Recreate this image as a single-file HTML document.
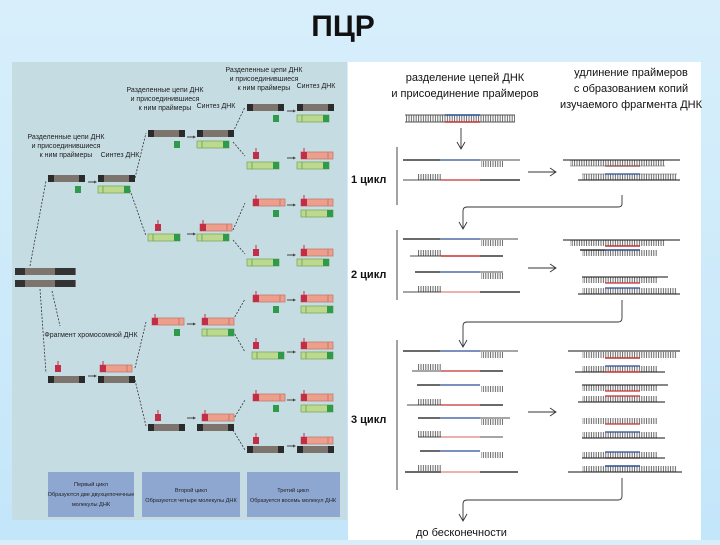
<!DOCTYPE html>
<html><head><meta charset="utf-8">
<style>
html,body{margin:0;padding:0;}
body{width:720px;height:540px;overflow:hidden;background:linear-gradient(#d8effb,#c4e6fa);font-family:"Liberation Sans",sans-serif;}
</style></head><body>
<svg width="720" height="540" viewBox="0 0 720 540" xmlns="http://www.w3.org/2000/svg" font-family="Liberation Sans, sans-serif">
<defs>
<g id="gb"><rect x="0" y="0" width="37" height="7" fill="#7d746e"/><rect x="0" y="0" width="6" height="7" fill="#2b2b2b"/><rect x="31" y="0" width="6" height="7" fill="#2b2b2b"/></g>
<g id="gn"><rect x="0" y="0" width="32" height="7" fill="#bcd98e" stroke="#7aa860" stroke-width="0.8"/><rect x="26" y="0" width="6" height="7" fill="#2f9a4a"/><line x1="5" y1="0" x2="5" y2="7" stroke="#7aa860"/></g>
<g id="rd"><rect x="0" y="0" width="32" height="7" fill="#ee9f8c" stroke="#c47a70" stroke-width="0.8"/><rect x="0" y="0" width="6" height="7" fill="#c22e48"/><line x1="27" y1="0" x2="27" y2="7" stroke="#c47a70"/><line x1="3" y1="-4" x2="3" y2="0" stroke="#c22e48"/></g>
<g id="pg"><rect x="0" y="0" width="6" height="7" fill="#2f9a4a"/></g>
<g id="pr"><rect x="0" y="0" width="6" height="7" fill="#c22e48"/><line x1="3" y1="-4" x2="3" y2="0" stroke="#c22e48"/></g>
<g id="ar"><line x1="0" y1="0" x2="6" y2="0" stroke="#444" stroke-width="1"/><path d="M6,-1.5 L9,0 L6,1.5Z" fill="#444"/></g>
<pattern id="lad" patternUnits="userSpaceOnUse" width="2.4" height="8"><line x1="1" y1="0" x2="1" y2="8" stroke="#666" stroke-width="1"/></pattern>
</defs>

<text x="343" y="36" font-size="30" font-weight="bold" text-anchor="middle" fill="#111">ПЦР</text>

<!-- left panel -->
<rect x="12" y="62" width="335" height="458" fill="#c6dce3"/>
<g font-size="7" fill="#222" text-anchor="middle">
<text x="66" y="139">Разделенные цепи ДНК</text><text x="66" y="148">и присоединившиеся</text><text x="66" y="157">к ним праймеры</text>
<text x="120" y="157">Синтез ДНК</text>
<text x="165" y="92">Разделенные цепи ДНК</text><text x="165" y="101">и присоединившиеся</text><text x="165" y="110">к ним праймеры</text>
<text x="216" y="108">Синтез ДНК</text>
<text x="264" y="72">Разделенные цепи ДНК</text><text x="264" y="81">и присоединившиеся</text><text x="264" y="90">к ним праймеры</text>
<text x="316" y="88">Синтез ДНК</text>
<text x="91" y="337">Фрагмент хромосомной ДНК</text>
</g>
<g><rect x="15" y="268" width="61" height="7" fill="#7d746e"/><rect x="15" y="268" width="10" height="7" fill="#333"/><rect x="55" y="268" width="20" height="7" fill="#333"/>
<rect x="15" y="280" width="61" height="7" fill="#7d746e"/><rect x="15" y="280" width="10" height="7" fill="#333"/><rect x="55" y="280" width="20" height="7" fill="#333"/></g>
<g stroke="#333" stroke-width="0.8" stroke-dasharray="2,1.5" fill="none">
<path d="M30,266 L46,181"/><path d="M40,289 L46,373"/><path d="M52,291 L60,326"/>
<path d="M135,178 L146,133"/><path d="M130,190 L146,236"/><path d="M135,368 L146,322"/><path d="M135,380 L146,426"/>
<path d="M233,132 L245,107"/><path d="M233,142 L245,156"/><path d="M233,230 L245,203"/><path d="M233,240 L245,254"/>
<path d="M233,320 L245,299"/><path d="M233,331 L245,352"/><path d="M233,420 L245,400"/><path d="M233,430 L245,450"/>
</g>
<use href="#gb" x="48" y="175"/><use href="#pg" x="75" y="186"/><use href="#ar" x="88" y="182"/><use href="#gb" x="98" y="175"/><use href="#gn" x="98" y="186"/>
<use href="#pr" x="55" y="365"/><use href="#gb" x="48" y="376"/><use href="#ar" x="88" y="376"/><use href="#rd" x="100" y="365"/><use href="#gb" x="98" y="376"/>
<use href="#gb" x="148" y="130"/><use href="#pg" x="174" y="141"/><use href="#ar" x="187" y="137"/><use href="#gb" x="197" y="130"/><use href="#gn" x="197" y="141"/>
<use href="#pr" x="155" y="224"/><use href="#gn" x="148" y="234"/><use href="#ar" x="187" y="234"/><use href="#rd" x="200" y="224"/><use href="#gn" x="197" y="234"/>
<use href="#rd" x="152" y="318"/><use href="#pg" x="174" y="329"/><use href="#ar" x="187" y="324"/><use href="#rd" x="202" y="318"/><use href="#gn" x="202" y="329"/>
<use href="#pr" x="155" y="414"/><use href="#gb" x="148" y="424"/><use href="#ar" x="187" y="418"/><use href="#rd" x="202" y="414"/><use href="#gb" x="197" y="424"/>
<use href="#gb" x="247" y="104"/><use href="#pg" x="273" y="115"/><use href="#ar" x="287" y="111"/><use href="#gb" x="297" y="104"/><use href="#gn" x="297" y="115"/>
<use href="#pr" x="253" y="152"/><use href="#gn" x="247" y="162"/><use href="#ar" x="287" y="158"/><use href="#rd" x="301" y="152"/><use href="#gn" x="297" y="162"/>
<use href="#rd" x="253" y="199"/><use href="#pg" x="273" y="210"/><use href="#ar" x="287" y="205"/><use href="#rd" x="301" y="199"/><use href="#gn" x="301" y="210"/>
<use href="#pr" x="253" y="249"/><use href="#gn" x="247" y="259"/><use href="#ar" x="287" y="255"/><use href="#rd" x="301" y="249"/><use href="#gn" x="297" y="259"/>
<use href="#rd" x="253" y="295"/><use href="#pg" x="273" y="306"/><use href="#ar" x="287" y="300"/><use href="#rd" x="301" y="295"/><use href="#gn" x="301" y="306"/>
<use href="#pr" x="253" y="342"/><use href="#gn" x="252" y="352"/><use href="#ar" x="287" y="352"/><use href="#rd" x="301" y="342"/><use href="#gn" x="301" y="352"/>
<use href="#rd" x="253" y="394"/><use href="#pg" x="273" y="405"/><use href="#ar" x="287" y="400"/><use href="#rd" x="301" y="394"/><use href="#gn" x="301" y="405"/>
<use href="#pr" x="253" y="437"/><use href="#gb" x="247" y="446"/><use href="#ar" x="287" y="446"/><use href="#rd" x="301" y="437"/><use href="#gb" x="297" y="446"/>
<rect x="48" y="472" width="86" height="45" fill="#8ea7d0"/><rect x="142" y="472" width="98" height="45" fill="#8ea7d0"/><rect x="247" y="472" width="93" height="45" fill="#8ea7d0"/>
<g font-size="5.6" fill="#222" text-anchor="middle">
<text x="91" y="486">Первый цикл</text><text x="91" y="496">Образуются две двухцепочечные</text><text x="91" y="506">молекулы ДНК</text>
<text x="191" y="492">Второй цикл</text><text x="191" y="502">Образуются четыре молекулы ДНК</text>
<text x="293" y="492">Третий цикл</text><text x="293" y="502">Образуется восемь молекул ДНК</text>
</g>

<!-- right panel -->
<rect x="348" y="62" width="353" height="478" fill="#ffffff"/>
<g font-size="11" fill="#111" text-anchor="middle">
<text x="465" y="81">разделение цепей ДНК</text><text x="465" y="97">и присоединение праймеров</text>
<text x="631" y="76">удлинение праймеров</text><text x="631" y="92">с образованием копий</text><text x="631" y="108">изучаемого фрагмента ДНК</text>
</g>
<g font-size="11" font-weight="bold" fill="#111"><text x="351" y="183">1 цикл</text><text x="351" y="278">2 цикл</text><text x="351" y="423">3 цикл</text></g>
<text x="416" y="536" font-size="11" fill="#111">до бесконечности</text>

<rect x="405" y="115" width="110" height="7" fill="url(#lad)"/>
<line x1="405" y1="115" x2="515" y2="115" stroke="#555"/><line x1="445" y1="115" x2="480" y2="115" stroke="#2a4f9a" stroke-width="1.5"/>
<line x1="405" y1="122" x2="515" y2="122" stroke="#555"/><line x1="445" y1="122" x2="480" y2="122" stroke="#c83030" stroke-width="1.5"/>

<g stroke="#333" stroke-width="0.9" fill="none">
<line x1="461" y1="128" x2="461" y2="148"/><path d="M457,142 L461,149 L465,142"/>
<line x1="397" y1="147" x2="397" y2="205"/><line x1="397" y1="230" x2="397" y2="300"/><line x1="397" y1="340" x2="397" y2="490"/>
<path d="M622,195 L622,204 Q622,207 618,207 L467,207 Q463,207 463,211 L463,228"/><path d="M459,222 L463,229 L467,222"/>
<path d="M622,300 L622,318 Q622,322 618,322 L467,322 Q463,322 463,326 L463,346"/><path d="M459,340 L463,347 L467,340"/>
<path d="M622,478 L622,496 Q622,500 618,500 L467,500 Q463,500 463,504 L463,520"/><path d="M459,514 L463,521 L467,514"/>
<line x1="528" y1="172" x2="555" y2="172"/><path d="M550,168 L556,172 L550,176"/>
<line x1="528" y1="268" x2="555" y2="268"/><path d="M550,264 L556,268 L550,272"/>
<line x1="528" y1="412" x2="555" y2="412"/><path d="M550,408 L556,412 L550,416"/>
</g>

<g>
<line x1="403" y1="160" x2="440" y2="160" stroke="#111" stroke-width="1.3"/><line x1="440" y1="160" x2="480" y2="160" stroke="#2a4f9a" stroke-width="1.3"/><line x1="480" y1="160" x2="520" y2="160" stroke="#111" stroke-width="0.8"/>
<rect x="481" y="161" width="22" height="6" fill="url(#lad)"/>
<rect x="418" y="174" width="23" height="6" fill="url(#lad)"/>
<line x1="403" y1="180" x2="441" y2="180" stroke="#111" stroke-width="0.8"/><line x1="441" y1="180" x2="480" y2="180" stroke="#c83030" stroke-width="1.3"/><line x1="480" y1="180" x2="520" y2="180" stroke="#111" stroke-width="1.3"/>
</g>
<g>
<rect x="570" y="160" width="95" height="6" fill="url(#lad)"/><line x1="563" y1="160" x2="680" y2="160" stroke="#111"/><line x1="605" y1="166" x2="640" y2="166" stroke="#c83030" stroke-width="1.3"/><line x1="570" y1="166" x2="665" y2="166" stroke="#555" stroke-width="0.6"/>
<rect x="582" y="174" width="95" height="6" fill="url(#lad)"/><line x1="582" y1="174" x2="677" y2="174" stroke="#555" stroke-width="0.6"/><line x1="605" y1="174" x2="640" y2="174" stroke="#2a4f9a" stroke-width="1.3"/><line x1="578" y1="180" x2="680" y2="180" stroke="#111"/>
</g>

<g>
<line x1="403" y1="239" x2="440" y2="239" stroke="#111" stroke-width="1.3"/><line x1="440" y1="239" x2="480" y2="239" stroke="#2a4f9a" stroke-width="1.3"/><line x1="480" y1="239" x2="518" y2="239" stroke="#111" stroke-width="0.8"/><rect x="481" y="240" width="22" height="6" fill="url(#lad)"/>
<rect x="418" y="250" width="23" height="6" fill="url(#lad)"/><line x1="410" y1="256" x2="441" y2="256" stroke="#111" stroke-width="0.8"/><line x1="441" y1="256" x2="480" y2="256" stroke="#c83030" stroke-width="1.5"/><line x1="480" y1="256" x2="503" y2="256" stroke="#111" stroke-width="1.3"/>
<line x1="415" y1="272" x2="440" y2="272" stroke="#111" stroke-width="1.3"/><line x1="440" y1="272" x2="480" y2="272" stroke="#2a4f9a" stroke-width="1.3"/><line x1="480" y1="272" x2="503" y2="272" stroke="#111" stroke-width="0.8"/><rect x="481" y="273" width="22" height="6" fill="url(#lad)"/>
<rect x="418" y="286" width="23" height="6" fill="url(#lad)"/><line x1="403" y1="292" x2="441" y2="292" stroke="#111" stroke-width="0.8"/><line x1="441" y1="292" x2="480" y2="292" stroke="#e08080" stroke-width="1.3"/><line x1="480" y1="292" x2="520" y2="292" stroke="#111" stroke-width="1.3"/>
</g>
<g>
<rect x="570" y="240" width="95" height="6" fill="url(#lad)"/><line x1="563" y1="240" x2="680" y2="240" stroke="#111"/><line x1="605" y1="246" x2="640" y2="246" stroke="#c83030" stroke-width="1.5"/>
<rect x="582" y="250" width="75" height="6" fill="url(#lad)"/><line x1="580" y1="250" x2="640" y2="250" stroke="#111" stroke-width="1.3"/><line x1="605" y1="250" x2="640" y2="250" stroke="#2a4f9a" stroke-width="1.3"/>
<rect x="582" y="277" width="75" height="6" fill="url(#lad)"/><line x1="582" y1="277" x2="668" y2="277" stroke="#111"/><line x1="605" y1="283" x2="640" y2="283" stroke="#c83030" stroke-width="1.3"/>
<rect x="582" y="288" width="95" height="6" fill="url(#lad)"/><line x1="605" y1="288" x2="640" y2="288" stroke="#2a4f9a" stroke-width="1.3"/><line x1="578" y1="294" x2="680" y2="294" stroke="#111"/>
</g>

<g>
<line x1="403" y1="351" x2="440" y2="351" stroke="#111" stroke-width="1.3"/><line x1="440" y1="351" x2="480" y2="351" stroke="#2a4f9a" stroke-width="1.3"/><line x1="480" y1="351" x2="518" y2="351" stroke="#111" stroke-width="0.8"/><rect x="481" y="352" width="22" height="6" fill="url(#lad)"/>
<rect x="418" y="364" width="23" height="6" fill="url(#lad)"/><line x1="412" y1="371" x2="441" y2="371" stroke="#111" stroke-width="0.8"/><line x1="441" y1="371" x2="480" y2="371" stroke="#c83030" stroke-width="1.3"/><line x1="480" y1="371" x2="503" y2="371" stroke="#111" stroke-width="1.3"/>
<line x1="417" y1="385" x2="440" y2="385" stroke="#111" stroke-width="1.3"/><line x1="440" y1="385" x2="480" y2="385" stroke="#2a4f9a" stroke-width="1.3"/><rect x="481" y="386" width="22" height="6" fill="url(#lad)"/>
<rect x="418" y="399" width="23" height="6" fill="url(#lad)"/><line x1="407" y1="405" x2="441" y2="405" stroke="#111" stroke-width="0.8"/><line x1="441" y1="405" x2="480" y2="405" stroke="#c83030" stroke-width="1.3"/><line x1="480" y1="405" x2="503" y2="405" stroke="#111" stroke-width="1.3"/>
<line x1="418" y1="418" x2="440" y2="418" stroke="#111" stroke-width="1.3"/><line x1="440" y1="418" x2="480" y2="418" stroke="#2a4f9a" stroke-width="1.3"/><line x1="480" y1="418" x2="510" y2="418" stroke="#111" stroke-width="0.8"/><rect x="481" y="419" width="22" height="6" fill="url(#lad)"/>
<rect x="418" y="431" width="23" height="6" fill="url(#lad)"/><line x1="418" y1="437" x2="441" y2="437" stroke="#111" stroke-width="0.8"/><line x1="441" y1="437" x2="480" y2="437" stroke="#e08080" stroke-width="1.3"/><line x1="480" y1="437" x2="503" y2="437" stroke="#111" stroke-width="0.8"/>
<line x1="420" y1="451" x2="440" y2="451" stroke="#111" stroke-width="1.3"/><line x1="440" y1="451" x2="480" y2="451" stroke="#2a4f9a" stroke-width="1.3"/><rect x="481" y="452" width="22" height="6" fill="url(#lad)"/>
<rect x="418" y="465" width="23" height="6" fill="url(#lad)"/><line x1="405" y1="472" x2="441" y2="472" stroke="#111" stroke-width="1.3"/><line x1="441" y1="472" x2="480" y2="472" stroke="#e08080" stroke-width="1.3"/><line x1="480" y1="472" x2="518" y2="472" stroke="#111" stroke-width="1.3"/>
</g>
<g>
<rect x="582" y="352" width="95" height="6" fill="url(#lad)"/><line x1="568" y1="351" x2="680" y2="351" stroke="#111"/><line x1="605" y1="358" x2="640" y2="358" stroke="#c83030" stroke-width="1.5"/>
<rect x="582" y="366" width="75" height="6" fill="url(#lad)"/><line x1="575" y1="372" x2="665" y2="372" stroke="#111"/><line x1="605" y1="366" x2="640" y2="366" stroke="#2a4f9a" stroke-width="1.3"/><line x1="605" y1="372" x2="640" y2="372" stroke="#c83030" stroke-width="1.5"/>
<rect x="582" y="385" width="75" height="6" fill="url(#lad)"/><line x1="582" y1="385" x2="668" y2="385" stroke="#111"/><line x1="605" y1="391" x2="640" y2="391" stroke="#c83030" stroke-width="1.3"/>
<rect x="582" y="396" width="75" height="6" fill="url(#lad)"/><line x1="605" y1="396" x2="640" y2="396" stroke="#c83030" stroke-width="1.3"/><line x1="578" y1="402" x2="665" y2="402" stroke="#111"/>
<rect x="582" y="418" width="75" height="6" fill="url(#lad)"/><line x1="605" y1="424" x2="640" y2="424" stroke="#c83030" stroke-width="1.3"/>
<rect x="582" y="432" width="75" height="6" fill="url(#lad)"/><line x1="582" y1="438" x2="665" y2="438" stroke="#111"/><line x1="605" y1="432" x2="640" y2="432" stroke="#2a4f9a" stroke-width="1.3"/>
<rect x="582" y="452" width="75" height="6" fill="url(#lad)"/><line x1="605" y1="452" x2="640" y2="452" stroke="#2a4f9a" stroke-width="1.3"/><line x1="605" y1="458" x2="640" y2="458" stroke="#c83030" stroke-width="1.3"/><line x1="582" y1="458" x2="665" y2="458" stroke="#111"/>
<rect x="582" y="466" width="95" height="6" fill="url(#lad)"/><line x1="605" y1="466" x2="640" y2="466" stroke="#2a4f9a" stroke-width="1.5"/><line x1="568" y1="472" x2="682" y2="472" stroke="#111"/>
</g>
</svg>
</body></html>
